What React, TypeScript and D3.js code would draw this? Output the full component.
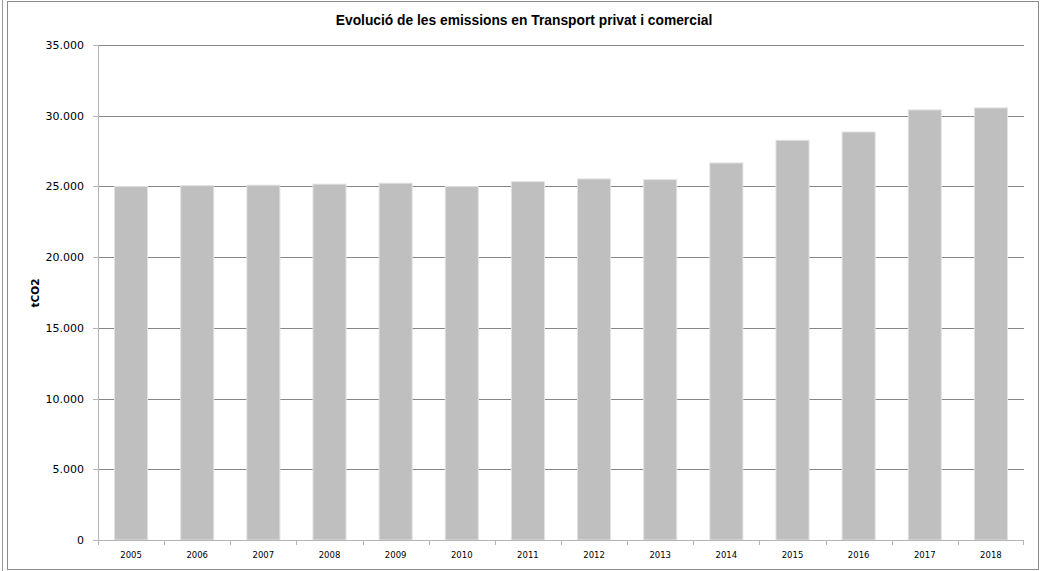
import React from "react";
import * as d3 from "d3";

const years = ["2005","2006","2007","2008","2009","2010","2011","2012","2013","2014","2015","2016","2017","2018"];
const emissions = [24990, 25060, 25090, 25160, 25230, 24990, 25340, 25530, 25480, 26660, 28260, 28850, 30410, 30550];
const yTicks = [0, 5000, 10000, 15000, 20000, 25000, 30000, 35000];
const title = "Evolució de les emissions en Transport privat i comercial";
const yTitle = "tCO2";

const W = 1044, H = 571;
const M = { left: 98, right: 1024, top: 45, bottom: 540 };

const fmt = (v: number) => (v === 0 ? "0" : d3.format(",")(v).replace(/,/g, "."));

export default function App() {
  const x = d3.scaleBand<string>().domain(years).range([M.left, M.right]).paddingInner(0.5).paddingOuter(0.25);
  const xb = d3.scaleBand<string>().domain(years).range([M.left, M.right]);
  const y = d3.scaleLinear().domain([0, 35000]).range([M.bottom, M.top]);
  const font = "'DejaVu Sans', sans-serif";
  return (
    <svg width={W} height={H} style={{ position: "absolute", left: 0, top: 0, background: "#fff" }}>
      <rect x={0} y={0} width={W} height={H} fill="#fff" />
      <line x1={2.5} x2={2.5} y1={0} y2={H} stroke="#999" />
      <rect x={7.5} y={1.5} width={1031} height={568} fill="none" stroke="#8c8c8c" />
      <text x={524} y={25} textAnchor="middle" fontFamily="'Liberation Sans', Arial, sans-serif" fontWeight="bold" fontSize={13.8} fill="#000">{title}</text>
      {yTicks.filter(t => t > 0).map(t => (
        <line key={"g" + t} x1={M.left} x2={M.right} y1={Math.round(y(t)) + 0.5} y2={Math.round(y(t)) + 0.5} stroke="#868686" />
      ))}
      {emissions.map((v, i) => (
        <rect key={years[i]} x={x(years[i])!} y={y(v)} width={x.bandwidth()} height={M.bottom - y(v)} fill="#bfbfbf" stroke="#e2e2e2" strokeWidth={1} />
      ))}
      <line x1={M.left + 0.5} x2={M.left + 0.5} y1={M.top} y2={M.bottom} stroke="#b5b5b5" />
      <line x1={M.left} x2={M.right} y1={M.bottom + 0.5} y2={M.bottom + 0.5} stroke="#b5b5b5" />
      {yTicks.map(t => (
        <g key={"t" + t}>
          <line x1={M.left - 5} x2={M.left} y1={Math.round(y(t)) + 0.5} y2={Math.round(y(t)) + 0.5} stroke="#b5b5b5" />
          <text x={84} y={y(t) + 4} textAnchor="end" fontFamily={font} fontSize={11} fill="#000">{fmt(t)}</text>
        </g>
      ))}
      {years.map(yr => (
        <line key={"xt" + yr} x1={Math.round(xb(yr)!) + 0.5} x2={Math.round(xb(yr)!) + 0.5} y1={M.bottom} y2={M.bottom + 5} stroke="#b5b5b5" />
      ))}
      <line x1={M.right - 0.5} x2={M.right - 0.5} y1={M.bottom} y2={M.bottom + 5} stroke="#b5b5b5" />
      {years.map(yr => (
        <text key={"xl" + yr} x={x(yr)! + x.bandwidth() / 2} y={558} textAnchor="middle" fontFamily={font} fontSize={8.5} fill="#000">{yr}</text>
      ))}
      <text transform={`translate(39,293) rotate(-90)`} textAnchor="middle" fontFamily={font} fontWeight="bold" fontSize={10.5} fill="#000">{yTitle}</text>
    </svg>
  );
}
